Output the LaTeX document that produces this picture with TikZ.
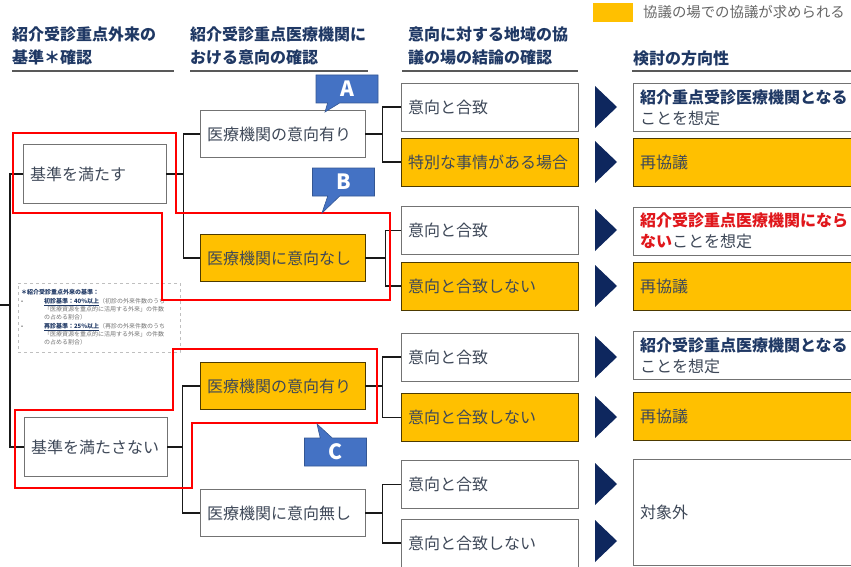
\documentclass[tikz,border=0pt]{standalone}
\usepackage{fontspec}
\setmainfont{Noto Sans CJK JP}
\usetikzlibrary{shapes.callouts}
\definecolor{navy}{HTML}{1F3864}
\definecolor{ink}{HTML}{3E4858}
\definecolor{gold}{HTML}{FFC000}
\definecolor{cblue}{HTML}{4472C4}
\definecolor{tri}{HTML}{0E275E}
\definecolor{warn}{HTML}{E0161B}

\begin{document}
\begin{tikzpicture}[x=1pt,y=-1pt,
  every node/.style={font=\fontsize{16}{21}\selectfont, text=ink},
  wbox/.style={draw=black!55, line width=0.8pt, fill=white, inner xsep=7pt, inner ysep=0pt, align=left},
  obox/.style={wbox, draw=black!45!gold!55!black, fill=gold},
  col1/.style={text width=129pt, minimum height=59pt},
  col2/.style={text width=151pt, minimum height=47pt},
  col3/.style={text width=163pt, minimum height=48pt},
  col4/.style={text width=216pt, minimum height=48pt},
  head/.style={anchor=west, align=left, font=\fontsize{16}{23}\selectfont\bfseries, text=navy, inner sep=0pt},
  rule/.style={line width=1.5pt, black!65},
  conn/.style={line width=1.6pt, black!90},
  redline/.style={line width=2pt, red},
  callout/.style={rectangle callout, fill=cblue, draw=cblue!75!black, line width=0.6pt, text=white,
    font=\fontsize{21}{21}\selectfont\bfseries, minimum width=62pt, minimum height=28pt, inner sep=0pt,
    callout pointer width=12pt},
  note/.style={draw=black!25, dashed, line width=0.6pt, align=left, text width=156pt, inner xsep=3pt,
    minimum height=69pt, font=\fontsize{6}{8.3}\selectfont, text=black!55}
]
\useasboundingbox (0,0) rectangle (851,567);
\clip (0,0) rectangle (851,567);

\node[head] (H1) at (12,46) {紹介受診重点外来の\\基準＊確認};
\node[head] (H2) at (190,46) {紹介受診重点医療機関に\\おける意向の確認};
\node[head] (H3) at (408,46) {意向に対する地域の協\\議の場の結論の確認};
\node[head] (H4) at (633,58) {検討の方向性};
\draw[rule] (12,71) -- (174,71);
\draw[rule] (190,71) -- (368,71);
\draw[rule] (402,71) -- (578,71);
\draw[rule] (632,71) -- (851,71);

\node[fill=gold, minimum width=40pt, minimum height=19pt, inner sep=0pt] (L) at (613,12.5) {};
\node[anchor=west, font=\fontsize{14.4}{15}\selectfont, text=black!60, inner sep=0pt] (Ltext) at (643,12) {協議の場での協議が求められる};

\node[wbox, col1] (K1) at (94.5,174) {基準を満たす};
\node[wbox, col1] (K2) at (95.5,447) {基準を満たさない};

\node[wbox, col2] (I1) at (282.5,134) {医療機関の意向有り};
\node[obox, col2] (I2) at (282.5,258) {医療機関に意向なし};
\node[obox, col2] (I3) at (282.5,386) {医療機関の意向有り};
\node[wbox, col2] (I4) at (282.5,513) {医療機関に意向無し};

\node[wbox, col3] (C1) at (489.5,107) {意向と合致};
\node[obox, col3] (C2) at (489.5,162) {特別な事情がある場合};
\node[wbox, col3] (C3) at (489.5,230.5) {意向と合致};
\node[obox, col3] (C4) at (489.5,286) {意向と合致しない};
\node[wbox, col3] (C5) at (489.5,357) {意向と合致};
\node[obox, col3] (C6) at (489.5,417.5) {意向と合致しない};
\node[wbox, col3] (C7) at (489.5,484.5) {意向と合致};
\node[wbox, col3] (C8) at (489.5,543) {意向と合致しない};

\node[wbox, col4] (D1) at (748,107.5) {{\bfseries\color{navy}紹介重点受診医療機関となる}\\ことを想定};
\node[obox, col4] (D2) at (748,162) {再協議};
\node[wbox, col4] (D3) at (748,231) {{\bfseries\color{warn}紹介受診重点医療機関になら}\\{\bfseries\color{warn}ない}ことを想定};
\node[obox, col4] (D4) at (748,286.5) {再協議};
\node[wbox, col4] (D5) at (748,355.5) {{\bfseries\color{navy}紹介受診重点医療機関となる}\\ことを想定};
\node[obox, col4] (D6) at (748,416) {再協議};
\node[wbox, col4, minimum height=106pt] (D7) at (748,512) {対象外};

\foreach \y in {107,162,230,286,357,417,484,541}
  \fill[tri] (595,\y-21) -- (617,\y) -- (595,\y+21) -- cycle;

\coordinate (root) at (0,305);
\draw[conn] (root) -- ++(10,0) coordinate (T);
\draw[conn] (K1.west) -| (T) |- (K2.west);
\draw[conn] (K1.east) -- ++(17,0) coordinate (s1) |- (I1.west);
\draw[conn] (s1) |- (I2.west);
\draw[conn] (K2.east) -- ++(15,0) coordinate (s2) |- (I3.west);
\draw[conn] (s2) |- (I4.west);
\draw[conn] (I1.east) -- ++(17,0) coordinate (s3) |- (C1.west);
\draw[conn] (s3) |- (C2.west);
\draw[conn] (I2.east) -- ++(20,0) coordinate (s4) |- (C3.west);
\draw[conn] (s4) |- (C4.west);
\draw[conn] (I3.east) -- ++(17,0) coordinate (s5) |- (C5.west);
\draw[conn] (s5) |- (C6.west);
\draw[conn] (I4.east) -- ++(17,0) coordinate (s6) |- (C7.west);
\draw[conn] (s6) |- (C8.west);

\node[note] (N) at (99,317.5) {%
{\bfseries\color{navy}＊紹介受診重点外来の基準：}\\
\makebox[23pt][l]{•}{\bfseries\color{navy}\underline{初診基準：40\%以上}}（初診の外来件数のうち\\
\hspace*{23pt}「医療資源を重点的に活用する外来」の件数\\
\hspace*{23pt}の占める割合）\\
\makebox[23pt][l]{•}{\bfseries\color{navy}\underline{再診基準：25\%以上}}（再診の外来件数のうち\\
\hspace*{23pt}「医療資源を重点的に活用する外来」の件数\\
\hspace*{23pt}の占める割合）};

\draw[redline] (13,133) -- (176,133) -- (176,213) -- (390,213) -- (390,300) -- (162,300) -- (162,213) -- (13,213) -- cycle;
\draw[redline] (173,349) -- (377,349) -- (377,423) -- (192,423) -- (192,488) -- (15,488) -- (15,410) -- (173,410) -- cycle;

\node[callout, callout absolute pointer={(325,112)}] (A) at (347,89) {A};
\node[callout, callout absolute pointer={(322,213)}] (B) at (343.5,182) {B};
\node[callout, callout absolute pointer={(317,424)}] (C) at (335.5,452) {C};
\end{tikzpicture}
\end{document}
